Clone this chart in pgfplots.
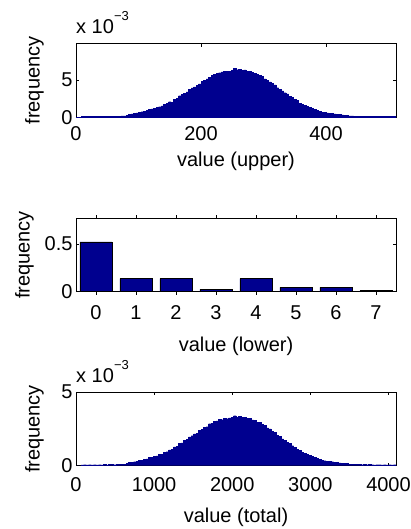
\documentclass[border=0pt]{standalone}
\usepackage{fontspec}
\setmainfont{Liberation Sans}
\usepackage{pgfplots}
\pgfplotsset{compat=1.18}
\definecolor{navy}{RGB}{0,0,143}

\pgfplotsset{
  histax/.style={
    scale only axis,
    width=320bp,
    height=73.5bp,
    anchor=south west,
    font=\fontsize{20bp}{24bp}\selectfont,
    tick align=inside,
    major tick length=3bp,
    tick style={black,line width=0.6bp},
    axis line style={black,line width=0.9bp},
    /pgf/number format/assume math mode=true,
    /pgf/number format/1000 sep={},
    ymin=0,
    ylabel={frequency},
  },
}

\begin{document}
\begin{tikzpicture}
\useasboundingbox (0,0) rectangle (411bp,529bp);

% upper part
\begin{axis}[histax, name=top,
  at={(76bp,411.7bp)},
  xmin=0, xmax=512, ymax=9.88,
  xtick={0,200,400}, ytick={0,5},
  xticklabel style={anchor=base, yshift=-23bp},
  every axis x label/.style={at={(axis description cs:0.5,-0.667)}, anchor=base},
  every axis y label/.style={at={(axis description cs:-0.114,0.5)}, rotate=90, anchor=base},
  xlabel={value (upper)},
]
\addplot[const plot, fill=navy, draw=navy, line width=0.3bp] coordinates {
(0,0)(4,0)(8,0.10)(12,0.12)(16,0.10)(20,0.13)(24,0.11)(28,0.12)(32,0.10)(36,0.13)
(40,0.12)(44,0.14)(48,0.12)(52,0.15)(56,0.16)(60,0.15)(64,0.17)(68,0.16)(72,0.18)(76,0.19)
(80,0.30)(84,0.40)(88,0.45)(92,0.50)(96,0.58)(100,0.66)(104,0.75)(108,0.82)(112,0.92)(116,1.05)
(120,1.12)(124,1.20)(128,1.30)(132,1.42)(136,1.55)(140,1.72)(144,1.85)(148,2.10)(152,2.05)(156,2.40)
(160,2.55)(164,2.90)(168,3.05)(172,3.25)(176,3.42)(180,3.80)(184,3.95)(188,4.10)(192,4.30)(196,4.48)
(200,4.85)(204,4.95)(208,5.15)(212,5.40)(216,5.65)(220,5.75)(224,5.90)(228,6.00)(232,6.10)(236,6.22)
(240,6.18)(244,6.20)(248,6.35)(252,6.55)(256,6.40)(260,6.45)(264,6.35)(268,6.38)(272,6.20)(276,6.15)
(280,6.05)(284,5.90)(288,5.75)(292,5.60)(296,5.50)(300,5.15)(304,5.00)(308,4.75)(312,4.55)(316,4.35)
(320,3.98)(324,3.80)(328,3.55)(332,3.30)(336,3.15)(340,2.80)(344,2.65)(348,2.40)(352,2.25)(356,1.90)
(360,1.78)(364,1.62)(368,1.50)(372,1.35)(376,1.22)(380,1.08)(384,0.95)(388,0.82)(392,0.70)(396,0.64)
(400,0.60)(404,0.55)(408,0.52)(412,0.46)(416,0.42)(420,0.37)(424,0.33)(428,0.25)(432,0.28)(436,0.20)
(440,0.18)(444,0.16)(448,0.15)(452,0.16)(456,0.14)(460,0.15)(464,0.13)(468,0.15)(472,0.14)(476,0.12)
(480,0.14)(484,0.13)(488,0.12)(492,0.14)(496,0.11)(500,0.13)(504,0.12)(508,0.14)(512,0.14)
} \closedcycle;
\end{axis}
\node[anchor=base west, font=\fontsize{20bp}{24bp}\selectfont, inner sep=0pt]
  at ([yshift=10bp]top.north west) {x 10\raisebox{13bp}{\fontsize{13bp}{13bp}\selectfont −3}};

% lower part
\begin{axis}[histax,
  at={(76bp,237.3bp)},
  xmin=-0.5, xmax=7.5, ymax=0.77,
  xtick={0,1,...,7}, ytick={0,0.5},
  xticklabel style={anchor=base, yshift=-25bp},
  every axis x label/.style={at={(axis description cs:0.5,-0.816)}, anchor=base},
  every axis y label/.style={at={(axis description cs:-0.145,0.5)}, rotate=90, anchor=base},
  xlabel={value (lower)},
  ybar, bar width=0.8,
]
\addplot[fill=navy, draw=black, line width=0.6bp] coordinates {
(0,0.521) (1,0.136) (2,0.136) (3,0.025) (4,0.136) (5,0.046) (6,0.046) (7,0.010)
};
\end{axis}

% total
\begin{axis}[histax, name=bot,
  at={(76bp,63.3bp)},
  xmin=0, xmax=4096, ymax=5,
  xtick={0,1000,...,4000}, ytick={0,5},
  xticklabel style={anchor=base, yshift=-26bp},
  every axis x label/.style={at={(axis description cs:0.5,-0.776)}, anchor=base},
  every axis y label/.style={at={(axis description cs:-0.114,0.5)}, rotate=90, anchor=base},
  xlabel={value (total)},
]
\addplot[const plot, fill=navy, draw=navy, line width=0.3bp] coordinates {
(0,0)(32,0)(64,0.05)(96,0.07)(128,0.05)(160,0.07)(192,0.06)(224,0.07)(256,0.05)(288,0.07)
(320,0.06)(352,0.08)(384,0.06)(416,0.08)(448,0.08)(480,0.07)(512,0.09)(544,0.08)(576,0.10)(608,0.09)
(640,0.17)(672,0.23)(704,0.22)(736,0.27)(768,0.29)(800,0.36)(832,0.38)(864,0.45)(896,0.47)(928,0.56)
(960,0.57)(992,0.64)(1024,0.66)(1056,0.76)(1088,0.79)(1120,0.92)(1152,0.95)(1184,1.07)(1216,1.12)(1248,1.28)
(1280,1.34)(1312,1.50)(1344,1.56)(1376,1.72)(1408,1.80)(1440,1.96)(1472,2.04)(1504,2.16)(1536,2.22)(1568,2.40)
(1600,2.48)(1632,2.60)(1664,2.65)(1696,2.86)(1728,2.90)(1760,3.02)(1792,3.05)(1824,3.15)(1856,3.13)(1888,3.22)
(1920,3.20)(1952,3.25)(1984,3.27)(2016,3.40)(2048,3.30)(2080,3.38)(2112,3.28)(2144,3.30)(2176,3.22)(2208,3.22)
(2240,3.12)(2272,3.08)(2304,2.96)(2336,2.93)(2368,2.80)(2400,2.74)(2432,2.58)(2464,2.50)(2496,2.34)(2528,2.27)
(2560,2.08)(2592,2.00)(2624,1.82)(2656,1.74)(2688,1.58)(2720,1.50)(2752,1.36)(2784,1.27)(2816,1.13)(2848,1.03)
(2880,0.92)(2912,0.86)(2944,0.77)(2976,0.72)(3008,0.63)(3040,0.58)(3072,0.49)(3104,0.44)(3136,0.36)(3168,0.34)
(3200,0.31)(3232,0.29)(3264,0.27)(3296,0.25)(3328,0.22)(3360,0.20)(3392,0.17)(3424,0.14)(3456,0.15)(3488,0.11)
(3520,0.09)(3552,0.09)(3584,0.08)(3616,0.09)(3648,0.07)(3680,0.08)(3712,0.07)(3744,0.08)(3776,0.07)(3808,0.06)
(3840,0.07)(3872,0.07)(3904,0.06)(3936,0.07)(3968,0.06)(4000,0.07)(4032,0.06)(4064,0.07)(4096,0.07)
} \closedcycle;
\end{axis}
\node[anchor=base west, font=\fontsize{20bp}{24bp}\selectfont, inner sep=0pt]
  at ([yshift=10bp]bot.north west) {x 10\raisebox{13bp}{\fontsize{13bp}{13bp}\selectfont −3}};
\end{tikzpicture}
\end{document}
